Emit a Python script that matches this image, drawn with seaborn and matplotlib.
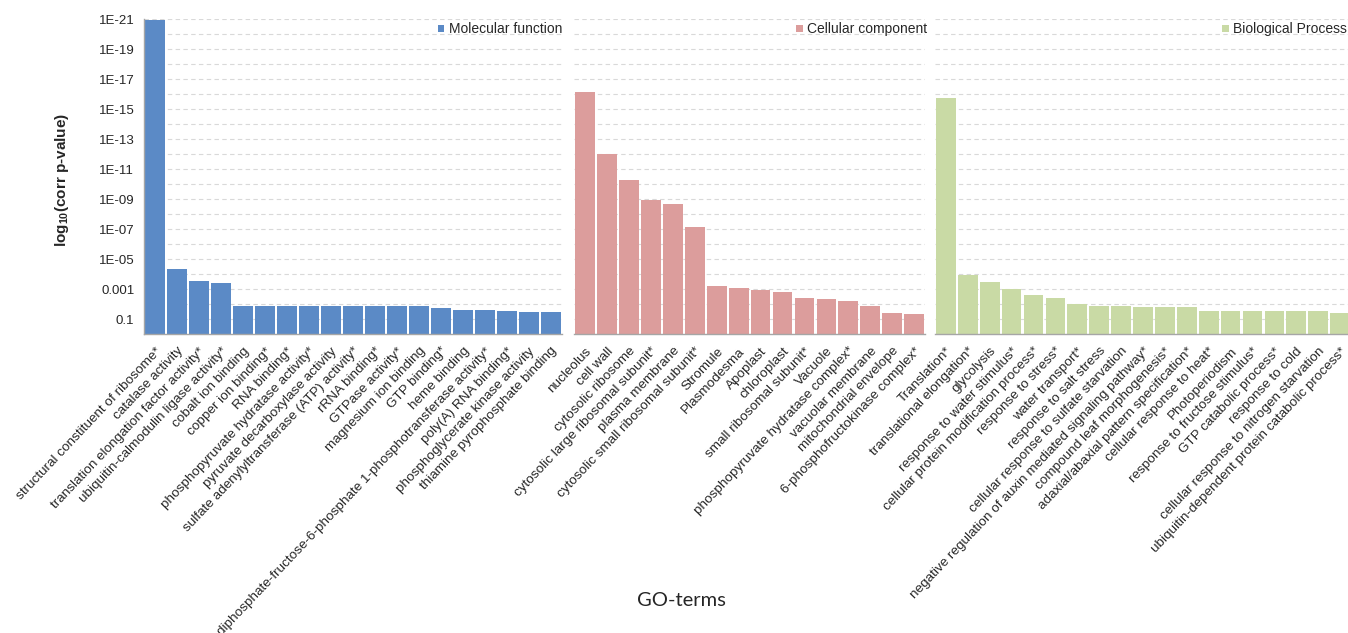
import numpy as np
import pandas as pd
import matplotlib
matplotlib.use("Agg")
import matplotlib.pyplot as plt
from matplotlib.patches import Patch
import seaborn as sns

# ---- GO enrichment results (corrected p-values) ----
mf_terms = [
    "structural constituent of ribosome*", "catalase activity",
    "translation elongation factor activity*", "ubiquitin-calmodulin ligase activity*",
    "cobalt ion binding", "copper ion binding*", "RNA binding*",
    "phosphopyruvate hydratase activity*", "pyruvate decarboxylase activity",
    "sulfate adenylyltransferase (ATP) activity*", "rRNA binding*", "GTPase activity*",
    "magnesium ion binding", "GTP binding*", "heme binding",
    "diphosphate-fructose-6-phosphate 1-phosphotransferase activity*",
    "poly(A) RNA binding*", "phosphoglycerate kinase activity",
    "thiamine pyrophosphate binding",
]
mf_pvalues = [1.2e-21, 4.6e-5, 3.0e-4, 3.8e-4, 0.014, 0.014, 0.014, 0.014, 0.014,
              0.014, 0.014, 0.014, 0.014, 0.019, 0.024, 0.024, 0.031, 0.036, 0.036]

cc_terms = [
    "nucleolus", "cell wall", "cytosolic ribosome",
    "cytosolic large ribosomal subunit*", "plasma membrane",
    "cytosolic small ribosomal subunit*", "Stromule", "Plasmodesma", "Apoplast",
    "chloroplast", "small ribosomal subunit*", "Vacuole",
    "phosphopyruvate hydratase complex*", "vacuolar membrane",
    "mitochondrial envelope", "6-phosphofructokinase complex*",
]
cc_pvalues = [7.0e-17, 9.5e-13, 4.9e-11, 1.1e-9, 2.0e-9, 7.2e-8, 6.3e-4, 8.7e-4,
              1.2e-3, 1.6e-3, 4.0e-3, 4.7e-3, 6.6e-3, 0.013, 0.040, 0.047]

bp_terms = [
    "Translation*", "translational elongation*", "glycolysis",
    "response to water stimulus*", "cellular protein modification process*",
    "response to stress*", "water transport*", "response to salt stress",
    "cellular response to sulfate starvation",
    "negative regulation of auxin mediated signaling pathway*",
    "compound leaf morphogenesis*", "adaxial/abaxial pattern specification*",
    "cellular response to heat*", "Photoperiodism", "response to fructose stimulus*",
    "GTP catabolic process*", "response to cold",
    "cellular response to nitrogen starvation",
    "ubiquitin-dependent protein catabolic process*",
]
bp_pvalues = [1.8e-16, 1.2e-4, 3.5e-4, 9.5e-4, 2.4e-3, 4.0e-3, 9.5e-3, 0.013, 0.013,
              0.017, 0.017, 0.017, 0.029, 0.029, 0.029, 0.029, 0.029, 0.029, 0.040]

categories = ["Molecular function", "Cellular component", "Biological Process"]
colors = ["#5B8AC6", "#DC9D9C", "#C9DAA5"]

tick_values = [1, 3, 5, 7, 9, 11, 13, 15, 17, 19, 21]
tick_labels = ["0.1", "0.001", "1E-05", "1E-07", "1E-09", "1E-11",
               "1E-13", "1E-15", "1E-17", "1E-19", "1E-21"]

# ---- style ----
sns.set_style("white")
plt.rcParams["font.family"] = ["Liberation Sans", "DejaVu Sans"]
plt.rcParams["mathtext.fontset"] = "custom"
plt.rcParams["mathtext.bf"] = "Liberation Sans:bold"
plt.rcParams["mathtext.rm"] = "Liberation Sans"

W, H = 1348, 633
fig = plt.figure(figsize=(W / 100, H / 100), dpi=100)

axis_top_px, axis_bot_px = 19.3, 334.0
# (left px, right px, legend right-edge px, terms, values)
panels = [
    (144.0, 561.7, 562.0, mf_terms, mf_pvalues),
    (574.3, 925.0, 927.0, cc_terms, cc_pvalues),
    (935.0, 1351.0, 1347.0, bp_terms, bp_pvalues),
]

spine_col = "#A6A6A6"
grid_col = "#D9D9D9"
text_col = "#262626"

for i, ((x0, x1, leg_x, terms, pvals), cat, col) in enumerate(
        zip(panels, categories, colors)):
    ax = fig.add_axes([x0 / W, 1 - axis_bot_px / H, (x1 - x0) / W,
                       (axis_bot_px - axis_top_px) / H])
    df = pd.DataFrame({"term": terms, "p": pvals})
    df["score"] = -np.log10(df["p"])
    sns.barplot(data=df, x="term", y="score", color=col, saturation=1,
                width=0.9, ax=ax, edgecolor="none")
    n = len(terms)
    ax.set_xlim(-0.5, n - 0.5)
    ax.set_ylim(0, 21)
    ax.set_axisbelow(True)

    # dashed gridlines at every decade
    ax.set_yticks(tick_values)
    ax.set_yticks(np.arange(2, 21, 2), minor=True)
    ax.yaxis.grid(True, which="both", color=grid_col, linestyle=(0, (4, 3)),
                  linewidth=0.8)
    ax.xaxis.grid(False)

    # category tick marks at bar boundaries, labels at centres
    ax.set_xticks(np.arange(n))
    ax.set_xticks(np.arange(n + 1) - 0.5, minor=True)
    ax.set_xticklabels(terms, rotation=46.5, ha="right", rotation_mode="anchor",
                       fontsize=9.7, color=text_col)
    ax.tick_params(axis="x", which="major", length=0, pad=8)
    ax.tick_params(axis="x", which="minor", length=4, color=spine_col, width=0.8,
                   direction="out")

    for s in ("top", "right"):
        ax.spines[s].set_visible(False)
    ax.spines["bottom"].set_color(spine_col)
    ax.spines["bottom"].set_linewidth(1.0)

    if i == 0:
        ax.set_yticklabels(tick_labels, fontsize=9.5, color=text_col)
        ax.tick_params(axis="y", which="major", length=4, color=spine_col,
                       width=0.8, direction="out", pad=3)
        ax.tick_params(axis="y", which="minor", length=0)
        ax.spines["left"].set_color(spine_col)
        ax.spines["left"].set_linewidth(1.0)
    else:
        ax.spines["left"].set_visible(False)
        ax.tick_params(axis="y", which="both", length=0, labelleft=False)

    ax.set_xlabel("")
    ax.set_ylabel("")

    ax.legend(handles=[Patch(facecolor=col, edgecolor="none", label=cat)],
              loc="upper right",
              bbox_to_anchor=((leg_x - x0) / (x1 - x0), 0.99), frameon=False,
              handlelength=0.5, handleheight=0.5, handletextpad=0.3,
              borderaxespad=0, borderpad=0, fontsize=10, labelcolor=text_col)

fig.text(62 / W, 1 - 180 / H, r"log$_{\mathbf{10}}$(corr p-value)", rotation=90,
         ha="center", va="center", fontsize=11, fontweight="bold",
         color=text_col)
fig.text(681 / W, 1 - 601 / H, "GO-terms", ha="center", va="center",
         fontsize=14.5, family=["Lato", "DejaVu Sans"], color=text_col)

fig.savefig("out.png", dpi=100)
